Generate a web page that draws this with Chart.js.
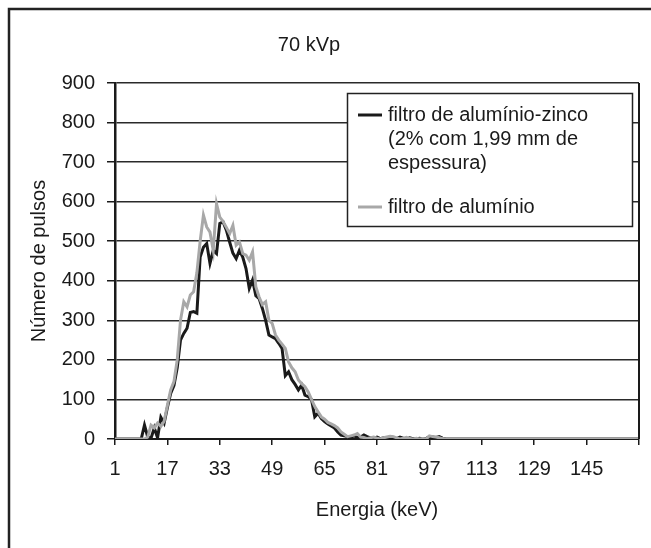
<!DOCTYPE html>
<html>
<head>
<meta charset="utf-8">
<script src="https://cdn.jsdelivr.net/npm/chart.js@4.4.1/dist/chart.umd.min.js"></script>
<style>
  html, body { margin: 0; padding: 0; background: #fff; }
  #wrap { width: 651px; height: 548px; }
</style>
</head>
<body>
<div id="wrap"><canvas id="c" width="651" height="548"></canvas></div>
<script>
// Energia (keV): categorias 1..161
const energias = [];
for (let e = 1; e <= 161; e++) energias.push(e);

// filtro de alumínio-zinco (2% com 1,99 mm de espessura)
const pulsosAlZn = [
  0, 0, 0, 0, 0, 0, 0, 0, 0, 35,
  5, 2, 28, 3, 55, 40, 80, 115, 135, 180,
  250, 267, 280, 320, 322, 318, 460, 485, 494, 444,
  477, 469, 545, 549, 528, 498, 470, 456, 477, 460,
  431, 381, 402, 362, 355, 330, 300, 263, 258, 254,
  242, 229, 160, 170, 150, 138, 124, 136, 111, 107,
  100, 56, 65, 52, 44, 38, 33, 28, 18, 10,
  8, 6, 4, 8, 3, 5, 10, 6, 3, 2,
  5, 1, 3, 0, 6, 4, 1, 5, 2, 0,
  3, 1, 0, 2, 0, 1, 6, 5, 4, 6,
  2, 0, 0, 0, 0, 0, 0, 0, 0, 0,
  0, 0, 0, 0, 0, 0, 0, 0, 0, 0,
  0, 0, 0, 0, 0, 0, 0, 0, 0, 0,
  0, 0, 0, 0, 0, 0, 0, 0, 0, 0,
  0, 0, 0, 0, 0, 0, 0, 0, 0, 0,
  0, 0, 0, 0, 0, 0, 0, 0, 0, 0,
  0
];

// filtro de alumínio
const pulsosAl = [
  0, 0, 0, 0, 0, 0, 0, 0, 0, 0,
  5, 35, 28, 40, 32, 45, 85, 124, 145, 200,
  300, 347, 334, 364, 372, 420, 500, 566, 536, 523,
  477, 595, 561, 550, 535, 519, 540, 490, 498, 469,
  465, 452, 473, 385, 359, 340, 347, 300, 292, 263,
  250, 240, 229, 195, 180, 170, 149, 140, 132, 119,
  100, 82, 69, 56, 50, 42, 38, 34, 28, 18,
  12, 6, 8, 10, 14, 5, 4, 1, 3, 5,
  2, 0, 3, 5, 7, 6, 3, 0, 2, 4,
  1, 0, 2, 0, 1, 0, 8, 6, 5, 3,
  1, 0, 0, 0, 0, 0, 0, 0, 0, 0,
  0, 0, 0, 0, 0, 0, 0, 0, 0, 0,
  0, 0, 0, 0, 0, 0, 0, 0, 0, 0,
  0, 0, 0, 0, 0, 0, 0, 0, 0, 0,
  0, 0, 0, 0, 0, 0, 0, 0, 0, 0,
  0, 0, 0, 0, 0, 0, 0, 0, 0, 0,
  0
];

const yTicks = [0, 100, 200, 300, 400, 500, 600, 700, 800, 900];

const FAMILY = '"Liberation Sans", Arial, sans-serif';
const FONT = '20px ' + FAMILY;
const INK = '#1a1a1a';
const LAST = energias.length - 1;

// textos, moldura e legenda desenhados por cima
const extras = {
  id: 'extras',
  afterDraw(chart) {
    const ctx = chart.ctx;
    const a = chart.chartArea;
    ctx.save();

    // moldura externa (só topo e esquerda aparecem)
    ctx.strokeStyle = '#222';
    ctx.lineWidth = 2.5;
    ctx.beginPath();
    ctx.moveTo(9, 560);
    ctx.lineTo(9, 9);
    ctx.lineTo(660, 9);
    ctx.stroke();

    // borda direita da área do gráfico
    ctx.lineWidth = 2;
    ctx.strokeStyle = INK;
    ctx.beginPath();
    ctx.moveTo(a.right, a.top);
    ctx.lineTo(a.right, a.bottom);
    ctx.stroke();

    ctx.fillStyle = INK;
    ctx.font = FONT;
    ctx.textAlign = 'center';
    ctx.textBaseline = 'middle';
    ctx.fillText('70 kVp', 309, 45);
    ctx.fillText('Energia (keV)', (a.left + a.right) / 2, 510);

    ctx.save();
    ctx.translate(39, (a.top + a.bottom) / 2);
    ctx.rotate(-Math.PI / 2);
    ctx.fillText('Número de pulsos', 0, 0);
    ctx.restore();

    // legenda
    ctx.fillStyle = '#fff';
    ctx.fillRect(347, 93, 286, 134);
    ctx.strokeStyle = '#222';
    ctx.lineWidth = 1.5;
    ctx.strokeRect(347.5, 93.5, 285, 133);

    ctx.lineWidth = 3;
    ctx.strokeStyle = INK;
    ctx.beginPath(); ctx.moveTo(358, 115); ctx.lineTo(382, 115); ctx.stroke();
    ctx.strokeStyle = '#a8a8a8';
    ctx.beginPath(); ctx.moveTo(358, 207); ctx.lineTo(382, 207); ctx.stroke();

    ctx.fillStyle = INK;
    ctx.textAlign = 'left';
    ctx.fillText('filtro de alumínio-zinco', 388, 115);
    ctx.fillText('(2% com 1,99 mm de', 388, 139);
    ctx.fillText('espessura)', 388, 163);
    ctx.fillText('filtro de alumínio', 388, 207);

    ctx.restore();
  }
};

new Chart(document.getElementById('c'), {
  type: 'line',
  data: {
    labels: energias,
    datasets: [
      {
        label: 'filtro de alumínio-zinco (2% com 1,99 mm de espessura)',
        data: pulsosAlZn,
        borderColor: INK,
        borderWidth: 3,
        pointRadius: 0,
        tension: 0,
        order: 1
      },
      {
        label: 'filtro de alumínio',
        data: pulsosAl,
        borderColor: '#a8a8a8',
        borderWidth: 3,
        pointRadius: 0,
        tension: 0,
        order: 0
      }
    ]
  },
  options: {
    responsive: false,
    animation: false,
    layout: { padding: { left: 0, top: 83, right: 10, bottom: 0 } },
    plugins: {
      legend: { display: false },
      title: { display: false },
      tooltip: { enabled: false }
    },
    scales: {
      x: {
        type: 'category',
        offset: false,
        afterFit: s => { s.height = 109; },
        grid: {
          drawOnChartArea: false,
          drawTicks: true,
          tickLength: 6,
          lineWidth: 1.5,
          tickColor: c => (c.index % 16 === 0 || c.index === LAST) ? INK : 'rgba(0,0,0,0)',
          color: 'rgba(0,0,0,0)'
        },
        border: { display: true, color: INK, width: 2 },
        ticks: {
          autoSkip: false,
          maxRotation: 0,
          minRotation: 0,
          padding: 12,
          color: INK,
          font: { family: FAMILY, size: 20 },
          callback: (v, i) => (i % 16 === 0 && i < LAST) ? energias[i] : ''
        }
      },
      y: {
        min: 0,
        max: 900,
        afterFit: s => { s.width = 115; },
        afterBuildTicks: s => { s.ticks = yTicks.map(v => ({ value: v })); },
        grid: {
          color: '#2a2a2a',
          lineWidth: 1.5,
          tickLength: 8,
          tickColor: INK
        },
        border: { display: true, color: INK, width: 2.5 },
        ticks: {
          padding: 12,
          color: INK,
          font: { family: FAMILY, size: 20 }
        }
      }
    }
  },
  plugins: [extras]
});
</script>
</body>
</html>
